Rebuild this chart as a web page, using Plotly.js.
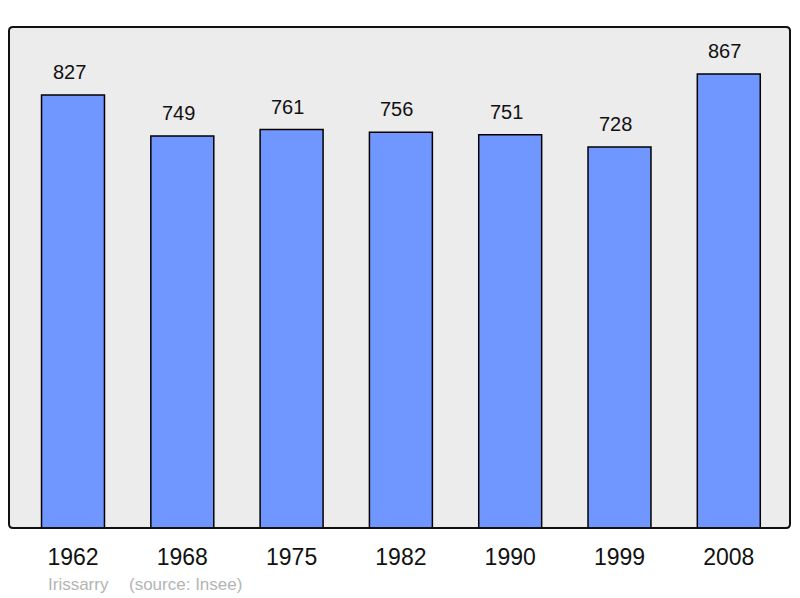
<!DOCTYPE html>
<html><head><meta charset="utf-8">
<script src="https://cdn.plot.ly/plotly-3.0.1.min.js"></script>
<style>html,body{margin:0;padding:0;background:#fff}#c{width:800px;height:598px}</style>
</head><body><div id="c"></div>
<script>
const years = ['1962','1968','1975','1982','1990','1999','2008'];
const population = [827, 749, 761, 756, 751, 728, 867];
const commune = 'Irissarry';
const source = '(source: Insee)';

const xs = years.map((_, i) => i);
const rx = 4/781, ry = 4/501;
const path = `M ${rx},0 L ${1-rx},0 Q 1,0 1,${ry} L 1,${1-ry} Q 1,1 ${1-rx},1 L ${rx},1 Q 0,1 0,${1-ry} L 0,${ry} Q 0,0 ${rx},0 Z`;
const fam = 'Liberation Sans, Arial, sans-serif';

const data = [{
  type: 'bar', x: xs, y: population, width: 0.576,
  marker: {color: '#7096ff', line: {color: '#000', width: 1.5}},
  hoverinfo: 'none'
}];

const annotations = population.map((v, i) => ({
  x: i, y: v, xref: 'x', yref: 'y', text: String(v), showarrow: false,
  yanchor: 'bottom', yshift: 10, xshift: -4, font: {family: fam, size: 20, color: '#111'}
}));
annotations.push({
  xref: 'paper', yref: 'paper', x: 37/781, y: -56/501, xanchor: 'left', yanchor: 'middle',
  text: commune, showarrow: false, font: {family: fam, size: 17, color: '#b4b4b4'}
});
annotations.push({
  xref: 'paper', yref: 'paper', x: 118/781, y: -56/501, xanchor: 'left', yanchor: 'middle',
  text: source, showarrow: false, font: {family: fam, size: 17, color: '#b4b4b4'}
});

const layout = {
  width: 800, height: 598,
  margin: {l: 9, r: 10, t: 27, b: 70, pad: 0},
  paper_bgcolor: '#fff', plot_bgcolor: 'rgba(0,0,0,0)',
  showlegend: false,
  xaxis: {range: [-0.5856, 6.56], tickvals: xs, ticktext: years, showgrid: false, zeroline: false,
    showline: false, ticks: '', ticklabelstandoff: 13,
    tickfont: {family: fam, size: 23, color: '#111'}},
  yaxis: {range: [0, 957], showgrid: false, zeroline: false, showticklabels: false, showline: false, ticks: ''},
  shapes: [
    {type: 'path', xref: 'paper', yref: 'paper', path: path, fillcolor: '#ececec', line: {width: 0}, layer: 'below'},
    {type: 'path', xref: 'paper', yref: 'paper', path: path, fillcolor: 'rgba(0,0,0,0)', line: {color: '#111', width: 2}, layer: 'above'}
  ],
  annotations: annotations
};
Plotly.newPlot('c', data, layout, {staticPlot: true});
</script></body></html>
